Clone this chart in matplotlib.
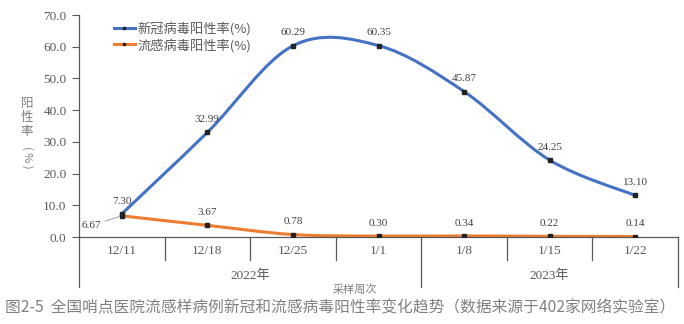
import matplotlib
matplotlib.use("Agg")
from matplotlib import pyplot as plt
from matplotlib.path import Path
from matplotlib.patches import PathPatch
import matplotlib.transforms as mtransforms
import numpy as np

weeks = ["12/11", "12/18", "12/25", "1/1", "1/8", "1/15", "1/22"]
covid_rate = [7.30, 32.99, 60.29, 60.35, 45.87, 24.25, 13.10]
flu_rate = [6.67, 3.67, 0.78, 0.30, 0.34, 0.22, 0.14]
year_groups = [("2022年", 0, 3), ("2023年", 4, 6)]

BLUE = "#4472C4"
ORANGE = "#ED7D31"
GRAY = "#595959"
SERIF = ["Liberation Serif", "Noto Sans CJK SC"]
CJK = ["Noto Sans CJK SC", "DejaVu Sans"]


def smooth_path(xs, ys):
    # Excel-style smoothed line: Catmull-Rom as cubic Bezier segments
    pts = np.column_stack([xs, ys]).astype(float)
    n = len(pts)
    verts = [pts[0]]
    codes = [Path.MOVETO]
    for i in range(n - 1):
        p0 = pts[i - 1] if i > 0 else pts[i]
        p1 = pts[i]
        p2 = pts[i + 1]
        p3 = pts[i + 2] if i + 2 < n else pts[i + 1]
        c1 = p1 + (p2 - p0) / 6.0
        c2 = p2 - (p3 - p1) / 6.0
        verts += [c1, c2, p2]
        codes += [Path.CURVE4] * 3
    return Path(verts, codes)


def main():
    fig = plt.figure(figsize=(6.84, 3.24), dpi=100)
    ax = fig.add_axes([79 / 684, 1 - 237 / 324, 599 / 684, 222 / 324])
    x = np.arange(len(weeks))

    for vals, col in [(covid_rate, BLUE), (flu_rate, ORANGE)]:
        ax.add_patch(PathPatch(smooth_path(x, vals), fill=False,
                               edgecolor=col, lw=2.2, capstyle="round"))
        ax.plot(x, vals, ls="none", marker="s", ms=2.6, color="#222222", zorder=5)

    ax.set_xlim(-0.5, 6.5)
    ax.set_ylim(0, 70)
    ax.set_yticks(np.arange(0, 71, 10))
    ax.set_yticklabels([f"{v:.1f}" for v in np.arange(0, 71, 10)],
                       family=SERIF, fontsize=9.5, color=GRAY)
    ax.set_xticks(x)
    ax.set_xticklabels(weeks, family=SERIF, fontsize=9.5, color=GRAY)
    ax.tick_params(axis="x", length=0, pad=6)
    ax.tick_params(axis="y", length=5, width=0.8, color=GRAY, pad=4)
    for s in ["top", "right"]:
        ax.spines[s].set_visible(False)
    for s in ["left", "bottom"]:
        ax.spines[s].set_color(GRAY)
        ax.spines[s].set_linewidth(0.9)

    # data labels
    for i, v in enumerate(covid_rate):
        ax.annotate(f"{v:.2f}", (i, v), xytext=(0, 6), textcoords="offset points",
                    ha="center", va="bottom", family=SERIF, fontsize=8, color="#404040")
    for i, v in enumerate(flu_rate):
        if i == 0:
            ax.annotate(f"{v:.2f}", (i, v), xytext=(-15, -7), textcoords="offset points",
                        ha="right", va="center", family=SERIF, fontsize=8, color="#404040",
                        arrowprops=dict(arrowstyle="-", color="#8c8c8c", lw=0.6,
                                        shrinkA=1, shrinkB=2))
        else:
            ax.annotate(f"{v:.2f}", (i, v), xytext=(0, 6), textcoords="offset points",
                        ha="center", va="bottom", family=SERIF, fontsize=8, color="#404040")

    # category dividers / multi-level axis
    tr = mtransforms.blended_transform_factory(ax.transData, ax.transAxes)
    short = -23 / 222
    long_ = -50 / 222
    bounds = [b - 0.5 for b in range(len(weeks) + 1)]
    group_edges = {year_groups[0][1] - 0.5, year_groups[0][2] + 0.5, year_groups[1][2] + 0.5}
    for b in bounds:
        y_end = long_ if b in group_edges else short
        ax.plot([b, b], [0, y_end], transform=tr, color=GRAY, lw=0.9, clip_on=False)
    for label, a, b in year_groups:
        ax.text((a + b) / 2, -39 / 222, label, transform=tr, ha="center", va="center",
                family=SERIF, fontsize=9.5, color=GRAY)

    # y axis title: stacked characters
    fig.text(27 / 684, 1 - 117 / 324, "阳\n性\n率", ha="center", va="center",
             family=CJK, fontsize=9, color="#7f7f7f", linespacing=1.1)
    fig.text(27 / 684, 1 - 157 / 324, "( % )", ha="center", va="center", rotation=270,
             family=CJK, fontsize=8, color="#7f7f7f")

    fig.text(355 / 684, 1 - 290 / 324, "采样周次", ha="center", va="center",
             family=CJK, fontsize=8, color="#7f7f7f")

    handles = [plt.Line2D([], [], color=BLUE, lw=2.2, marker="s", ms=2,
                          markerfacecolor="#222222", markeredgecolor="#222222"),
               plt.Line2D([], [], color=ORANGE, lw=2.2, marker="s", ms=2,
                          markerfacecolor="#222222", markeredgecolor="#222222")]
    leg = fig.legend(handles, ["新冠病毒阳性率(%)", "流感病毒阳性率(%)"],
                     loc="upper left", bbox_to_anchor=(107 / 684, 1 - 15 / 324),
                     frameon=False, borderpad=0, handlelength=1.6, handletextpad=0.2,
                     labelspacing=0.2, prop={"family": CJK, "size": 9.5})
    for t in leg.get_texts():
        t.set_color(GRAY)

    fig.text(5 / 684, 1 - 308 / 324,
             "图2-5  全国哨点医院流感样病例新冠和流感病毒阳性率变化趋势（数据来源于402家网络实验室）",
             ha="left", va="center", family=CJK, fontsize=11.3, color="#808080")

    fig.savefig("out.png", dpi=100)


if __name__ == "__main__":
    main()
